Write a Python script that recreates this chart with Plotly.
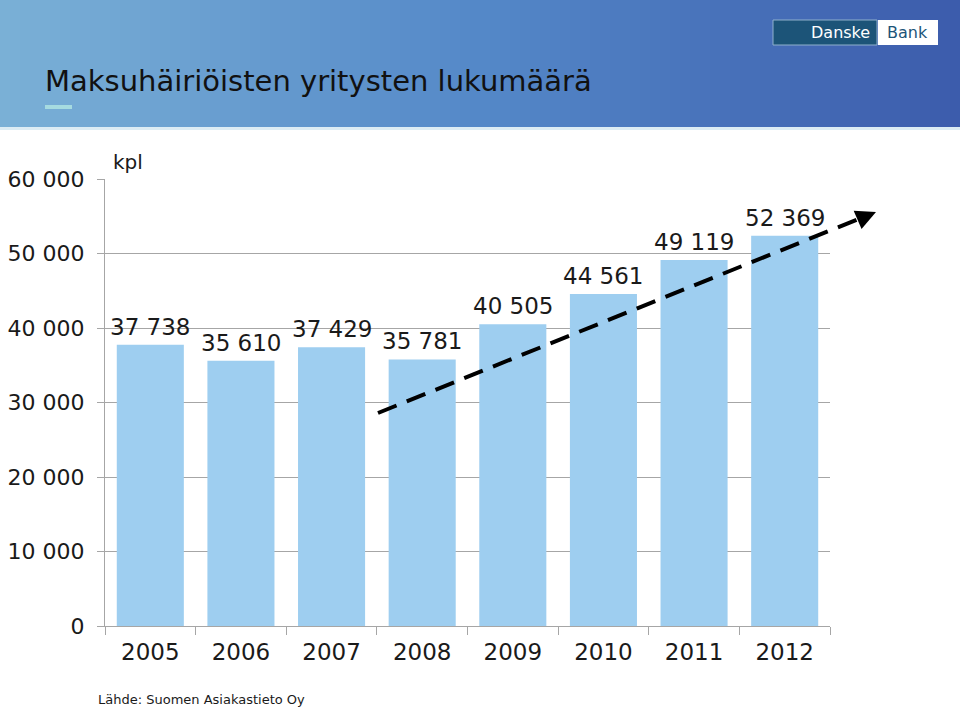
import plotly.graph_objects as go

# data
years = ["2005", "2006", "2007", "2008", "2009", "2010", "2011", "2012"]
companies = [37738, 35610, 37429, 35781, 40505, 44561, 49119, 52369]
y_ticks = [0, 10000, 20000, 30000, 40000, 50000, 60000]
y_tick_text = ["0", "10 000", "20 000", "30 000", "40 000", "50 000", "60 000"]

W, H = 960, 709
L, R, T, B = 105, 130, 179, 83
FONT = "DejaVu Sans"
BAR_COLOR = "#9ECEF0"


def fmt(v):
    return f"{v:,}".replace(",", " ")


def px_x(px):
    return (px - L) / (W - L - R)


def px_y(py):
    return (H - B - py) / (H - T - B)


def mix(c1, c2, t):
    return "#" + "".join(f"{round(a + (b - a) * t):02x}" for a, b in zip(c1, c2))


fig = go.Figure()
fig.add_trace(go.Bar(
    x=years, y=companies,
    marker=dict(color=BAR_COLOR, line=dict(width=0)),
    width=0.74, hoverinfo="x+y",
))

shapes = []
# header banner: horizontal gradient built from thin stripes
left_c, mid_c, right_c = (122, 176, 214), (84, 136, 200), (60, 92, 172)
n = 96
for i in range(n):
    t = i / (n - 1)
    c = mix(left_c, mid_c, t / 0.5) if t < 0.5 else mix(mid_c, right_c, (t - 0.5) / 0.5)
    shapes.append(dict(type="rect", xref="paper", yref="paper", layer="below",
                       x0=px_x(i * W / n), x1=px_x((i + 1) * W / n + 1),
                       y0=px_y(127), y1=px_y(0), fillcolor=c, line=dict(width=0)))
shapes.append(dict(type="rect", xref="paper", yref="paper", x0=px_x(0), x1=px_x(W),
                   y0=px_y(130), y1=px_y(127), fillcolor="#dcecf4", line=dict(width=0)))
# small accent under title
shapes.append(dict(type="rect", xref="paper", yref="paper", x0=px_x(45), x1=px_x(72),
                   y0=px_y(109), y1=px_y(105), fillcolor="#a6dbe0", line=dict(width=0)))
# logo boxes
shapes.append(dict(type="rect", xref="paper", yref="paper", x0=px_x(773), x1=px_x(877),
                   y0=px_y(45), y1=px_y(20), fillcolor="#1c5478",
                   line=dict(color="#8fb0cc", width=1)))
shapes.append(dict(type="rect", xref="paper", yref="paper", x0=px_x(878), x1=px_x(938),
                   y0=px_y(45), y1=px_y(20), fillcolor="#ffffff", line=dict(width=0)))
# trend arrow
shapes.append(dict(type="line", xref="paper", yref="paper",
                   x0=px_x(378), y0=px_y(413), x1=px_x(866), y1=px_y(216),
                   line=dict(color="black", width=4, dash="20px,11px")))

annotations = [
    dict(text="Maksuhäiriöisten yritysten lukumäärä", xref="paper", yref="paper",
         x=px_x(43), y=px_y(81), xanchor="left", yanchor="middle", showarrow=False,
         font=dict(family=FONT, size=29, color="#111111")),
    dict(text="Danske", xref="paper", yref="paper", x=px_x(872), y=px_y(33),
         xanchor="right", yanchor="middle", showarrow=False,
         font=dict(family=FONT, size=16, color="white")),
    dict(text="Bank", xref="paper", yref="paper", x=px_x(908), y=px_y(33),
         xanchor="center", yanchor="middle", showarrow=False,
         font=dict(family=FONT, size=16, color="#1c5478")),
    dict(text="kpl", xref="paper", yref="paper", x=px_x(111), y=px_y(162),
         xanchor="left", yanchor="middle", showarrow=False,
         font=dict(family=FONT, size=20, color="#1a1a1a")),
    dict(text="Lähde: Suomen Asiakastieto Oy", xref="paper", yref="paper",
         x=px_x(96), y=px_y(699), xanchor="left", yanchor="middle", showarrow=False,
         font=dict(family=FONT, size=13, color="#1a1a1a")),
    dict(text="", xref="paper", yref="paper", x=px_x(876), y=px_y(212),
         ax=-14, ay=6, showarrow=True, arrowhead=2, arrowsize=1, arrowwidth=4,
         arrowcolor="black"),
]
# value labels above the bars (category axis -> use the category index)
for i, v in enumerate(companies):
    annotations.append(dict(
        text=fmt(v), x=i, y=v, xref="x", yref="y", xanchor="center",
        yanchor="bottom", yshift=3, showarrow=False,
        font=dict(family=FONT, size=23, color="#1a1a1a")))

fig.update_layout(
    width=W, height=H,
    margin=dict(l=L, r=R, t=T, b=B, autoexpand=False),
    plot_bgcolor="white", paper_bgcolor="white",
    showlegend=False, bargap=0.26,
    shapes=shapes, annotations=annotations,
    xaxis=dict(
        type="category", tickson="boundaries", ticks="outside", ticklen=8,
        tickcolor="#a6a6a6", showline=True, linecolor="#a6a6a6", linewidth=1,
        tickfont=dict(family=FONT, size=23, color="#1a1a1a"),
        showgrid=False, range=[-0.5, 7.5], ticklabelstandoff=5,
    ),
    yaxis=dict(
        range=[0, 60000], tickvals=y_ticks, ticktext=y_tick_text,
        ticks="outside", ticklen=7, tickcolor="#a6a6a6",
        showline=True, linecolor="#a6a6a6", linewidth=1,
        showgrid=True, gridcolor="#a6a6a6", gridwidth=1, zeroline=False,
        ticklabelstandoff=8,
        tickfont=dict(family=FONT, size=22, color="#1a1a1a"),
    ),
)

fig.write_html("out.html", config={"displayModeBar": False},
               post_script="document.body.style.margin='0';")
